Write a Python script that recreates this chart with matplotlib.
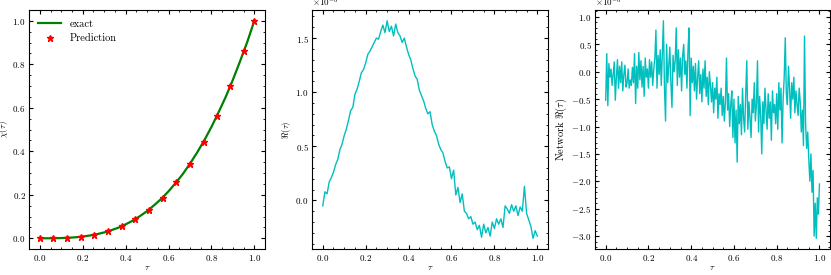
import numpy as np
import matplotlib
matplotlib.use("Agg")
import matplotlib.pyplot as plt

plt.rcParams.update({
    "font.family": "serif",
    "font.serif": ["cmr10", "DejaVu Serif"],
    "mathtext.fontset": "cm",
    "axes.formatter.use_mathtext": True,
    "font.size": 6.5,
    "xtick.direction": "in",
    "ytick.direction": "in",
    "xtick.top": True,
    "ytick.right": True,
    "xtick.minor.visible": True,
    "ytick.minor.visible": True,
    "xtick.major.size": 3,
    "ytick.major.size": 3,
    "xtick.minor.size": 1.5,
    "ytick.minor.size": 1.5,
    "xtick.major.pad": 2.5,
    "ytick.major.pad": 2.5,
    "axes.linewidth": 0.8,
})

# panel 1: exact curve and network prediction
tau_exact = [0.0, 0.033, 0.067, 0.1, 0.133, 0.167, 0.2, 0.233, 0.267, 0.3, 0.333,
             0.367, 0.4, 0.433, 0.467, 0.5, 0.533, 0.567, 0.6, 0.633, 0.667,
             0.7, 0.733, 0.767, 0.8, 0.833, 0.867, 0.9, 0.933, 0.967, 1.0]
chi_exact = [0.0, 0.0, 0.0003, 0.001, 0.0024, 0.0046, 0.008, 0.0127, 0.019, 0.027, 0.037,
             0.049, 0.064, 0.081, 0.102, 0.125, 0.152, 0.182, 0.216, 0.254, 0.296,
             0.343, 0.394, 0.451, 0.512, 0.579, 0.651, 0.729, 0.813, 0.903, 1.0]
tau_pred = [0.0, 0.062, 0.127, 0.191, 0.254, 0.318, 0.381, 0.445, 0.508,
            0.572, 0.636, 0.699, 0.763, 0.825, 0.888, 0.952, 1.0]
chi_pred = [0.0, 0.0002, 0.002, 0.007, 0.016, 0.032, 0.055, 0.088, 0.131,
            0.187, 0.257, 0.342, 0.444, 0.562, 0.700, 0.863, 1.0]

# panel 2: residual (units of 1e-3)
res = [-0.05, 0.08, 0.06, 0.17, 0.21, 0.26, 0.33, 0.38, 0.47, 0.52,
       0.60, 0.66, 0.74, 0.83, 0.86, 0.98, 1.03, 1.10, 1.18, 1.21,
       1.27, 1.35, 1.38, 1.42, 1.46, 1.50, 1.49, 1.56, 1.62, 1.55,
       1.66, 1.56, 1.61, 1.52, 1.63, 1.55, 1.52, 1.46, 1.50, 1.42,
       1.35, 1.30, 1.22, 1.15, 1.12, 1.02, 0.97, 0.92, 0.85, 0.80,
       0.82, 0.70, 0.64, 0.60, 0.52, 0.47, 0.44, 0.36, 0.30, 0.31,
       0.20, 0.28, 0.05, 0.12, -0.02, 0.06, -0.10, -0.12, -0.17, -0.15,
       -0.22, -0.20, -0.27, -0.23, -0.34, -0.22, -0.30, -0.25, -0.33, -0.20,
       -0.26, -0.17, -0.22, -0.17, -0.25, -0.05, -0.08, -0.12, -0.04, -0.10,
       -0.05, -0.14, -0.06, -0.10, 0.13, -0.12, -0.18, -0.24, -0.35, -0.28,
       -0.33]

# panel 3: network residual (units of 1e-3)
net = [-0.52, 0.33, -0.62, 0.15, -0.10, 0.05, -0.25, -0.05, 0.18, -0.52,
       -0.10, 0.22, -0.30, 0.10, -0.20, 0.18, -0.35, -0.05, 0.12, -0.28,
       -0.20, 0.05, -0.30, -0.15, -0.25, 0.08, -0.20, 0.33, -0.58, 0.10,
       -0.30, 0.35, -0.15, 0.20, -0.28, 0.10, -0.45, 0.25, -0.10, 0.05,
       -0.30, 0.22, -0.10, 0.18, -0.25, 0.05, 0.25, 0.76, -0.30, 0.30,
       -0.05, 0.40, -0.25, 0.35, 0.93, -0.30, -0.90, 0.50, -0.20, 0.10,
       0.45, -0.20, -0.65, 0.30, 0.00, 0.20, 0.80, -0.25, 0.40, -0.10,
       0.25, -0.35, 0.30, 0.50, -0.05, 0.20, -0.30, 0.40, 0.80, -0.80,
       0.25, -0.20, 0.10, -0.35, 0.15, -0.50, -0.10, 0.20, -0.40, -0.05,
       -0.55, 0.05, -0.30, 0.20, -0.45, -0.10, -0.60, 0.00, -0.25, -0.55,
       -0.20, -0.75, -0.30, -0.50, -0.10, -0.85, -0.40, -0.60, -0.30, -0.80,
       -0.45, -0.90, -0.55, 0.25, -0.70, -0.40, -1.00, -0.60, -0.35, -1.20,
       -0.50, -1.30, -0.70, -1.65, -0.45, -0.95, -0.60, -1.15, -0.30, -0.85,
       -1.10, -0.40, 0.20, -1.05, -0.55, -0.85, -1.20, -0.50, -0.75, -0.20,
       -0.90, -0.60, 0.20, -1.10, -0.45, -0.80, -1.50, -0.55, -0.95, -0.30,
       -0.70, -1.05, -0.40, -0.85, -0.55, -1.25, -0.35, -0.75, -0.60, -0.95,
       -0.40, -1.05, -0.20, -0.70, -0.30, -1.30, -0.50, -0.10, 0.62, -0.40,
       -0.60, 0.10, -0.30, -0.85, -0.20, -0.50, -0.10, -0.75, -0.35, -0.60,
       -0.80, -0.30, -0.55, -1.10, -0.70, -1.35, 0.65, -0.95, -1.40, -1.10,
       -1.60, -2.00, -1.50, -2.20, -1.80, -3.00, -2.40, -3.04, -2.30, -2.60,
       -2.05]

tau_res = np.linspace(0, 1, len(res))
tau_net = np.linspace(0, 1, len(net))

fig = plt.figure(figsize=(8.31, 2.75), dpi=100)
ax1 = fig.add_axes([0.035, 0.094, 0.284, 0.87])
ax2 = fig.add_axes([0.3755, 0.094, 0.284, 0.87])
ax3 = fig.add_axes([0.716, 0.094, 0.283, 0.87])

ax1.plot(tau_exact, chi_exact, color="green", lw=1.6, label="exact")
ax1.plot(tau_pred, chi_pred, "r*", ms=5, ls="none", label="Prediction")
ax1.set_xlabel(r"$\tau$")
ax1.set_ylabel(r"$\chi(\tau)$")
ax1.legend(loc="upper left", frameon=False, fontsize=7.5, handlelength=2.2)

ax2.plot(tau_res, np.array(res) * 1e-3, color="c", lw=1)
ax2.set_xlabel(r"$\tau$")
ax2.set_ylabel(r"$\Re(\tau)$")
ax2.set_yticks([0.0, 0.5e-3, 1.0e-3, 1.5e-3])

ax3.plot(tau_net, np.array(net) * 1e-3, color="c", lw=1)
ax3.set_xlabel(r"$\tau$")
ax3.set_ylabel(r"Network $\Re(\tau)$", fontsize=7.5)
ax3.set_yticks(np.arange(-3.0, 1.01, 0.5) * 1e-3)

for ax in (ax2, ax3):
    ax.ticklabel_format(axis="y", style="sci", scilimits=(0, 0), useMathText=True)

for ax in (ax1, ax2, ax3):
    ax.set_xticks([0.0, 0.2, 0.4, 0.6, 0.8, 1.0])
    ax.xaxis.labelpad = 1
    ax.yaxis.labelpad = 2

fig.savefig("out.png", dpi=100)
